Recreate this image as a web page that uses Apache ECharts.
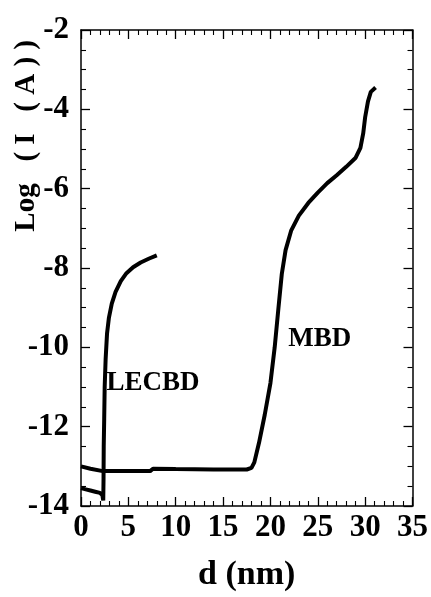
<!DOCTYPE html>
<html>
<head>
<meta charset="utf-8">
<script src="https://cdn.jsdelivr.net/npm/echarts@6/dist/echarts.min.js"></script>
<style>
  html, body { margin: 0; padding: 0; background: #fff; }
  #chart { width: 431px; height: 597px; }
</style>
</head>
<body>
<div id="chart"></div>
<script>
// data: [d (nm), log I (A)]
var lecbd = [
  [0, -13.55], [0.5, -13.58], [1, -13.61], [1.5, -13.64], [2, -13.67], [2.25, -13.72],
  [2.35, -13.86], [2.38, -13.3], [2.4, -12.5], [2.45, -11.8], [2.5, -11.0], [2.6, -10.3],
  [2.75, -9.65], [2.95, -9.25], [3.25, -8.9], [3.65, -8.6], [4.2, -8.33], [4.8, -8.13],
  [5.5, -7.98], [6.3, -7.86], [7.2, -7.76], [8.0, -7.68]
];
var mbd = [
  [0, -13.0], [1, -13.06], [2.3, -13.12], [5, -13.12], [7.3, -13.12], [7.6, -13.06],
  [10, -13.07], [14, -13.08], [17.5, -13.08], [18.0, -13.04], [18.3, -12.9], [18.8, -12.4],
  [19.4, -11.7], [20.0, -10.9], [20.45, -10.0], [20.85, -9.0], [21.2, -8.15], [21.6, -7.55],
  [22.2, -7.05], [23.0, -6.68], [24.0, -6.36], [25.0, -6.1], [26.0, -5.86], [27.0, -5.66],
  [28.0, -5.45], [29.0, -5.22], [29.5, -4.97], [29.8, -4.6], [30.0, -4.2], [30.3, -3.8],
  [30.6, -3.56], [31.1, -3.45]
];
var labelNames = ['LECBD', 'MBD'];
var labelCoords = [[7.6, -10.9], [25.2, -9.8]];
var xMin = 0, xMax = 35, xStep = 5;
var yMin = -14, yMax = -2, yStep = 2;

var font = 'Liberation Serif';
var axisLine = { show: true, onZero: false, lineStyle: { color: '#000', width: 1.5 } };
function tick(len) { return { show: true, inside: true, length: len, lineStyle: { color: '#000', width: 1.3 } }; }
function minor(n) { return { show: true, splitNumber: n, length: 5, lineStyle: { color: '#000', width: 1.1 } }; }

var chart = echarts.init(document.getElementById('chart'));
chart.setOption({
  animation: false,
  grid: { left: 81, right: 12, top: 30, bottom: 89 },
  xAxis: [{
    type: 'value', min: xMin, max: xMax, interval: xStep,
    name: 'd (nm)', nameLocation: 'middle', nameGap: 52,
    nameTextStyle: { fontFamily: font, fontWeight: 'bold', fontSize: 34, color: '#000' },
    axisLine: axisLine, axisTick: tick(9), minorTick: minor(5), splitLine: { show: false },
    axisLabel: { fontFamily: font, fontWeight: 'bold', fontSize: 31, color: '#000', margin: 6 }
  }, {
    type: 'value', min: xMin, max: xMax, interval: xStep, position: 'top',
    axisLine: axisLine, axisTick: tick(9), minorTick: minor(5), splitLine: { show: false },
    axisLabel: { show: false }
  }],
  yAxis: [{
    type: 'value', min: yMin, max: yMax, interval: yStep,
    axisLine: axisLine, axisTick: tick(9), minorTick: minor(4), splitLine: { show: false },
    axisLabel: { fontFamily: font, fontWeight: 'bold', fontSize: 31, color: '#000', margin: 12 }
  }, {
    type: 'value', min: yMin, max: yMax, interval: yStep, position: 'right',
    axisLine: axisLine, axisTick: tick(9), minorTick: minor(4), splitLine: { show: false },
    axisLabel: { show: false }
  }],
  series: [{
    name: 'LECBD', type: 'line', data: lecbd, showSymbol: false,
    lineStyle: { color: '#000', width: 4 }
  }, {
    name: 'MBD', type: 'line', data: mbd, showSymbol: false,
    lineStyle: { color: '#000', width: 4 }
  }]
});

// y axis title and curve labels
var graphics = [{
  type: 'text', left: 12, top: 40, rotation: Math.PI / 2,
  style: { text: 'Log   ( I   ( A ) )', font: 'bold 29px "Liberation Serif"', fill: '#000' }
}];
for (var i = 0; i < labelNames.length; i++) {
  var p = chart.convertToPixel({ gridIndex: 0 }, labelCoords[i]);
  graphics.push({
    type: 'text', x: p[0], y: p[1],
    style: { text: labelNames[i], font: 'bold 27px "Liberation Serif"', fill: '#000', align: 'center', verticalAlign: 'middle' }
  });
}
chart.setOption({ graphic: graphics });
</script>
</body>
</html>
